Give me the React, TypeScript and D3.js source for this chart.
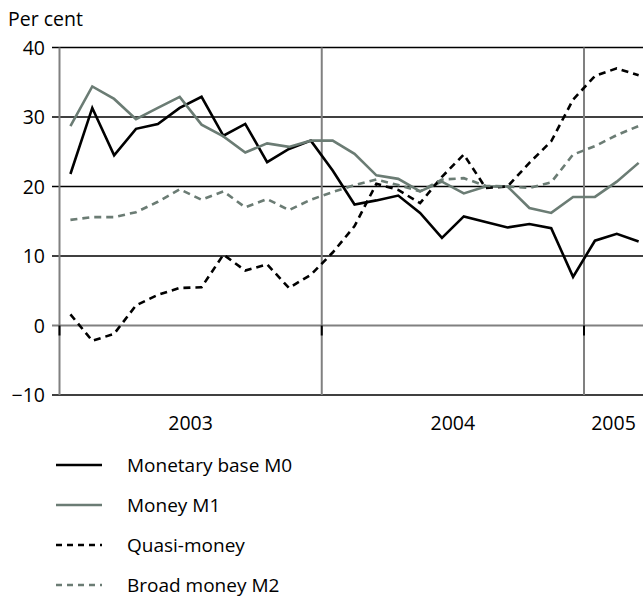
import React from "react";
import * as d3 from "d3";

const years = ["2003", "2004", "2005"];
const yTicks = [-10, 0, 10, 20, 30, 40];
const monetaryBaseM0 = [21.8, 31.3, 24.5, 28.3, 29.0, 31.3, 32.9, 27.3, 29.0, 23.5, 25.4, 26.6, 22.3, 17.4, 18.0, 18.7, 16.2, 12.6, 15.7, 14.9, 14.1, 14.6, 14.0, 7.0, 12.2, 13.2, 12.1];
const moneyM1 = [28.7, 34.4, 32.6, 29.7, 31.3, 32.9, 28.9, 27.2, 24.9, 26.2, 25.7, 26.6, 26.6, 24.7, 21.6, 21.1, 19.3, 20.7, 19.0, 20.0, 20.0, 16.9, 16.2, 18.5, 18.5, 20.7, 23.4];
const quasiMoney = [1.6, -2.2, -1.2, 2.9, 4.4, 5.4, 5.5, 10.2, 7.9, 8.8, 5.4, 7.3, 10.5, 14.3, 20.4, 19.5, 17.6, 21.4, 24.6, 19.8, 20.0, 23.4, 26.5, 32.5, 35.9, 37.0, 36.0];
const broadMoneyM2 = [15.2, 15.6, 15.6, 16.3, 17.8, 19.6, 18.1, 19.3, 17.0, 18.2, 16.6, 18.1, 19.2, 20.2, 21.0, 20.2, 19.3, 21.0, 21.2, 20.1, 20.0, 19.8, 20.6, 24.6, 25.8, 27.4, 28.7];

const GREEN = "#6b7c74";
const FONT = "'Open Sans', 'Noto Sans', sans-serif";

const series = [
  { name: "Monetary base M0", values: monetaryBaseM0, color: "#000", dash: "" },
  { name: "Money M1", values: moneyM1, color: GREEN, dash: "" },
  { name: "Quasi-money", values: quasiMoney, color: "#000", dash: "7,5" },
  { name: "Broad money M2", values: broadMoneyM2, color: GREEN, dash: "7,5" },
];

export default function App() {
  const W = 643, H = 598;
  const left = 59.5, right = 643;
  const x = d3.scaleLinear().domain([0, 24]).range([left, 584]);
  const y = d3.scaleLinear().domain([-10, 40]).range([395, 47.5]);
  const line = d3
    .line<number>()
    .x((_, i) => x(i + 0.5))
    .y((d) => y(d));

  const yearStarts = [0, 12, 24];
  const yearLabelX = yearStarts.map((s) => {
    const a = x(s);
    const b = Math.min(x(s + 12), right);
    return (a + b) / 2;
  });

  return (
    <svg
      width={W}
      height={H}
      style={{ position: "absolute", left: 0, top: 0, background: "#fff" }}
      fontFamily={FONT}
    >
      <defs>
        <clipPath id="plot">
          <rect x={left} y={0} width={right - left} height={400} />
        </clipPath>
      </defs>
      <text x={8} y={26} fontSize={19.5} fill="#000">Per cent</text>
      {yTicks.map((t) => (
        <g key={t}>
          <line
            x1={52}
            x2={right}
            y1={y(t)}
            y2={y(t)}
            stroke={t === 0 ? "#808080" : "#000"}
            strokeWidth={t === 0 ? 2 : 1.3}
          />
          <text
            x={45}
            y={y(t)}
            dy="0.36em"
            textAnchor="end"
            fontSize={19.5}
            fill="#000"
          >
            {t < 0 ? "\u2212" + Math.abs(t) : t}
          </text>
        </g>
      ))}
      {[12, 24].map((m) => (
        <line key={m} x1={x(m)} x2={x(m)} y1={y(40)} y2={y(-10)} stroke="#808080" strokeWidth={2} />
      ))}
      <line x1={left} x2={left} y1={y(40)} y2={y(-10)} stroke="#808080" strokeWidth={2} />
      {[0, 12, 24].map((m) => (
        <line key={"t" + m} x1={x(m)} x2={x(m)} y1={y(0)} y2={y(0) + 10} stroke="#000" strokeWidth={2} />
      ))}
      <g clipPath="url(#plot)">
        {series.map((s) => (
          <path
            key={s.name}
            d={line(s.values) || ""}
            fill="none"
            stroke={s.color}
            strokeWidth={2.6}
            strokeDasharray={s.dash || undefined}
            strokeLinejoin="miter"
          />
        ))}
      </g>
      {years.map((yr, i) => (
        <text key={yr} x={yearLabelX[i]} y={430} textAnchor="middle" fontSize={19.5} fill="#000">
          {yr}
        </text>
      ))}
      {series.map((s, i) => {
        const ly = 465 + i * 40;
        return (
          <g key={"lg" + s.name}>
            <line
              x1={56}
              x2={102}
              y1={ly}
              y2={ly}
              stroke={s.color}
              strokeWidth={2.6}
              strokeDasharray={s.dash ? "6,5" : undefined}
            />
            <text x={127} y={ly} dy="0.36em" fontSize={19} fill="#000">
              {s.name}
            </text>
          </g>
        );
      })}
    </svg>
  );
}
